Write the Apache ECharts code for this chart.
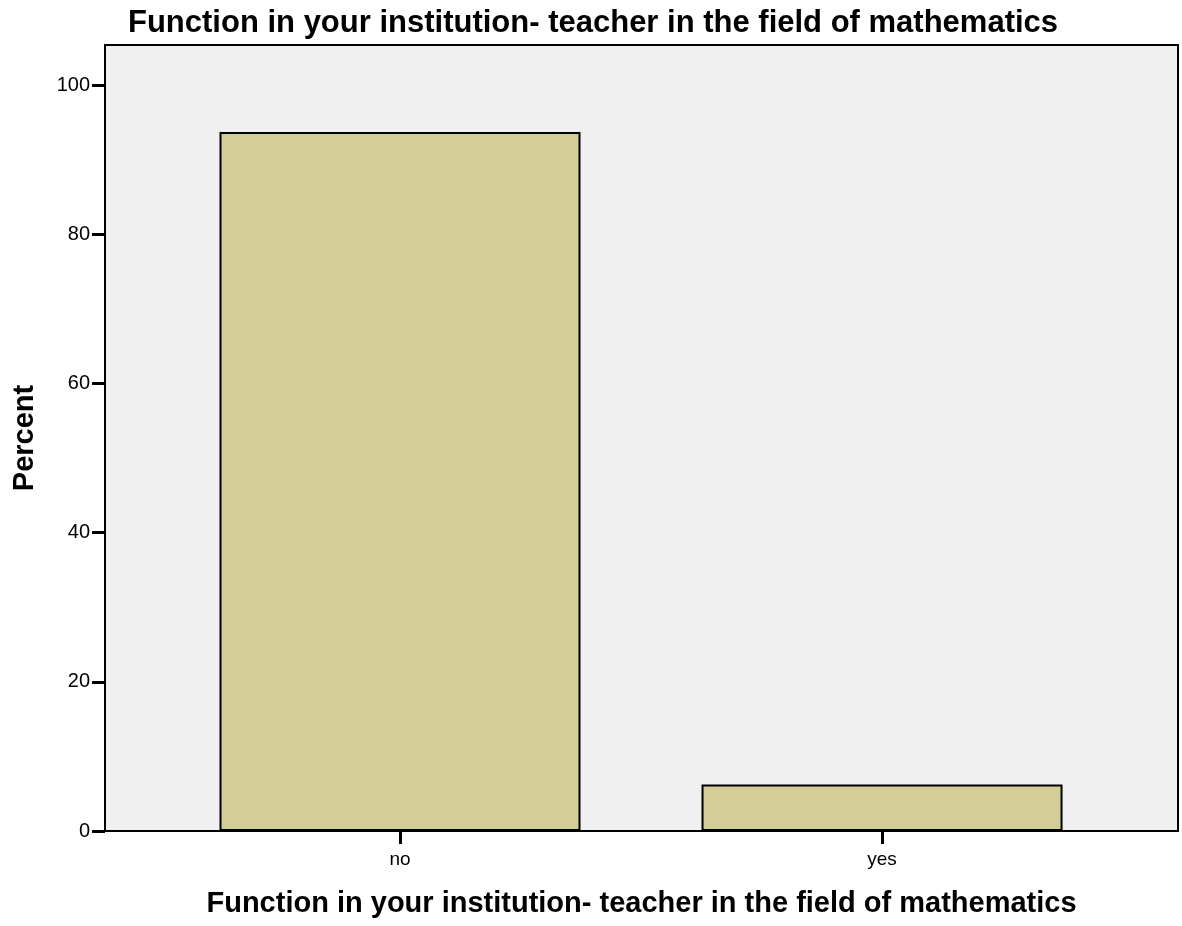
<!DOCTYPE html>
<html>
<head>
<meta charset="utf-8">
<script src="https://cdn.jsdelivr.net/npm/echarts@6/dist/echarts.min.js"></script>
<style>
  html, body { margin: 0; padding: 0; background: #fff; }
  #chart { width: 1182px; height: 926px; }
</style>
</head>
<body>
<div id="chart"></div>
<script>
// data
const categories = ["no", "yes"];
const percents = [93.75, 6.25];
const chartTitle = "Function in your institution- teacher in the field of mathematics";

const myChart = echarts.init(document.getElementById("chart"));
const font = "Liberation Sans, Arial, sans-serif";

const option = {
  backgroundColor: "#ffffff",
  animation: false,
  title: {
    text: chartTitle,
    left: 128,
    top: 8,
    padding: 0,
    textStyle: { fontFamily: font, fontSize: 31, fontWeight: "bold", color: "#000" },
  },
  grid: {
    left: 105,
    right: 4,
    top: 45,
    bottom: 95,
    show: true,
    backgroundColor: "#f0f0f0",
    borderColor: "#000",
    borderWidth: 2,
  },
  xAxis: {
    type: "value",
    min: -0.612,
    max: 1.614,
    name: chartTitle,
    nameLocation: "middle",
    nameGap: 58,
    nameTextStyle: { fontFamily: font, fontSize: 29, fontWeight: "bold", color: "#000" },
    axisLine: { show: true, onZero: false, lineStyle: { color: "#000", width: 2 } },
    axisTick: { show: true, length: 13, customValues: [0, 1], lineStyle: { color: "#000", width: 3 } },
    axisLabel: {
      customValues: [0, 1],
      formatter: (v) => categories[Math.round(v)],
      fontFamily: font,
      fontSize: 19,
      color: "#000",
      margin: 19,
    },
    splitLine: { show: false },
  },
  yAxis: {
    type: "value",
    min: 0,
    max: 105.4,
    interval: 20,
    name: "Percent",
    nameLocation: "middle",
    nameGap: 66,
    nameTextStyle: { fontFamily: font, fontSize: 29, fontWeight: "bold", color: "#000" },
    axisLine: { show: true, onZero: false, lineStyle: { color: "#000", width: 2 } },
    axisTick: { show: true, length: 13, lineStyle: { color: "#000", width: 3 } },
    axisLabel: {
      fontFamily: font,
      fontSize: 20,
      color: "#000",
      margin: 15,
      showMaxLabel: false,
    },
    splitLine: { show: false },
  },
  series: [
    {
      type: "bar",
      data: percents.map((p, i) => [i, p]),
      barWidth: 361,
      itemStyle: { color: "#d3ce97", borderColor: "#000", borderWidth: 2 },
    },
  ],
};

myChart.setOption(option);
</script>
</body>
</html>
